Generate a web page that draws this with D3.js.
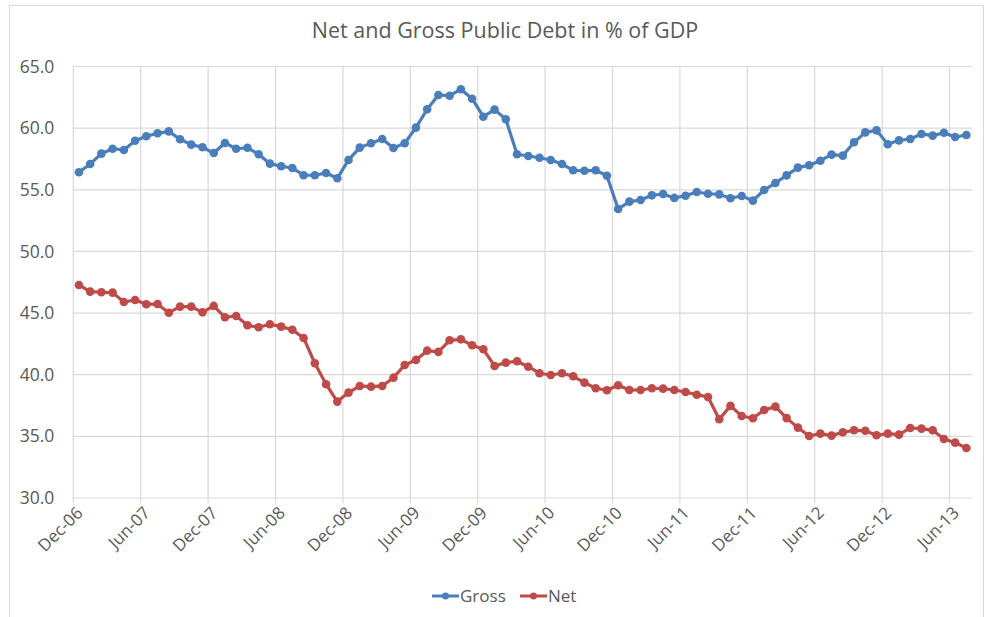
<!DOCTYPE html>
<html>
<head>
<meta charset="utf-8">
<script src="https://cdn.jsdelivr.net/npm/d3@7"></script>
<style>
  body { margin: 0; background: #fff; }
  text { font-family: "Open Sans", "DejaVu Sans", sans-serif; fill: #595959; }
</style>
</head>
<body>
<div id="chart"></div>
<script>
"use strict";

// monthly readings, Dec-06 .. Jul-13
var startMonth = new Date(2006, 11, 1);

var gross = [
  56.42, 57.09, 57.93, 58.33, 58.23, 58.98, 59.34, 59.58, 59.74, 59.10,
  58.66, 58.45, 57.98, 58.80, 58.33, 58.41, 57.88, 57.12, 56.91, 56.77,
  56.18, 56.18, 56.36, 55.93, 57.42, 58.42, 58.77, 59.12, 58.39, 58.77,
  60.04, 61.53, 62.69, 62.63, 63.15, 62.39, 60.93, 61.50, 60.72, 57.88,
  57.74, 57.60, 57.42, 57.09, 56.58, 56.55, 56.58, 56.14, 53.44, 54.04,
  54.17, 54.55, 54.66, 54.34, 54.52, 54.82, 54.68, 54.63, 54.31, 54.50,
  54.12, 54.98, 55.55, 56.17, 56.80, 56.99, 57.36, 57.85, 57.77, 58.85,
  59.66, 59.82, 58.69, 59.01, 59.12, 59.53, 59.39, 59.63, 59.28, 59.44
];

var net = [
  47.28, 46.74, 46.69, 46.66, 45.90, 46.06, 45.71, 45.74, 45.03, 45.52,
  45.52, 45.06, 45.58, 44.66, 44.76, 44.01, 43.85, 44.09, 43.90, 43.65,
  42.98, 40.93, 39.23, 37.82, 38.55, 39.09, 39.03, 39.09, 39.76, 40.79,
  41.20, 41.95, 41.85, 42.79, 42.87, 42.39, 42.06, 40.71, 40.98, 41.09,
  40.65, 40.12, 39.98, 40.12, 39.87, 39.36, 38.90, 38.74, 39.14, 38.76,
  38.76, 38.90, 38.87, 38.76, 38.60, 38.38, 38.19, 36.39, 37.47, 36.65,
  36.47, 37.14, 37.41, 36.48, 35.71, 35.03, 35.22, 35.06, 35.33, 35.49,
  35.46, 35.09, 35.22, 35.14, 35.68, 35.63, 35.49, 34.79, 34.49, 34.06
];

var seriesNames = ["Gross", "Net"];
var seriesColors = ["#4a7ebb", "#be4b48"];
var yTicks = [30, 35, 40, 45, 50, 55, 60, 65];
var xTickEvery = 6; // months

var width = 986, height = 617;
var margin = { top: 66.5, right: 14, bottom: 119, left: 73.3 };

var svg = d3.select("#chart").append("svg")
  .attr("width", width)
  .attr("height", height);

// outer chart border
svg.append("rect")
  .attr("x", 9.5).attr("y", 5.5)
  .attr("width", 974).attr("height", 620)
  .attr("fill", "none").attr("stroke", "#d9d9d9");

svg.append("text")
  .attr("x", 505).attr("y", 38)
  .attr("text-anchor", "middle")
  .style("font-size", "21.5px")
  .text("Net and Gross Public Debt in % of GDP");

var nMonths = gross.length;
var x = d3.scaleLinear().domain([0, nMonths]).range([margin.left, width - margin.right]);
var y = d3.scaleLinear().domain([30, 65]).range([height - margin.bottom, margin.top]);

var monthDate = function(i) { return d3.timeMonth.offset(startMonth, i); };
var fmt = d3.timeFormat("%b-%y");

var tickIdx = d3.range(0, nMonths, xTickEvery);

// horizontal grid
svg.append("g").selectAll("line").data(yTicks).enter().append("line")
  .attr("x1", x(0)).attr("x2", x(nMonths))
  .attr("y1", function(d) { return y(d); })
  .attr("y2", function(d) { return y(d); })
  .attr("stroke", "#d9d9d9").attr("stroke-width", 1.2);

// vertical grid
svg.append("g").selectAll("line").data(tickIdx).enter().append("line")
  .attr("x1", function(d) { return x(d); })
  .attr("x2", function(d) { return x(d); })
  .attr("y1", y(65)).attr("y2", y(30) + 5)
  .attr("stroke", "#d9d9d9").attr("stroke-width", 1.2);

// y labels
var yAxis = d3.axisLeft(y).tickValues(yTicks).tickFormat(d3.format(".1f")).tickSize(0).tickPadding(19);
var gy = svg.append("g").attr("transform", "translate(" + margin.left + ",0)").call(yAxis);
gy.select(".domain").remove();
gy.selectAll("text").style("font-size", "17.5px").style("font-family", null).attr("fill", null);

// x labels
var xAxis = d3.axisBottom(x).tickValues(tickIdx)
  .tickFormat(function(i) { return fmt(monthDate(i)); })
  .tickSize(0);
var gx = svg.append("g").attr("transform", "translate(0," + y(30) + ")").call(xAxis);
gx.select(".domain").remove();
gx.selectAll("text")
  .style("font-size", "17px").style("font-family", null).attr("fill", null)
  .attr("text-anchor", "end")
  .attr("dy", null).attr("y", 0)
  .attr("transform", "translate(10,16) rotate(-45)");

var line = d3.line()
  .x(function(d, i) { return x(i + 0.5); })
  .y(function(d) { return y(d); });

[gross, net].forEach(function(vals, k) {
  var g = svg.append("g");
  g.append("path").datum(vals)
    .attr("d", line)
    .attr("fill", "none")
    .attr("stroke", seriesColors[k])
    .attr("stroke-width", 3.2)
    .attr("stroke-linejoin", "round");
  g.selectAll("circle").data(vals).enter().append("circle")
    .attr("cx", function(d, i) { return x(i + 0.5); })
    .attr("cy", function(d) { return y(d); })
    .attr("r", 4.3)
    .attr("fill", seriesColors[k]);
});

// legend
var legendX = [432, 520];
var legend = svg.append("g").selectAll("g").data(seriesNames).enter().append("g")
  .attr("transform", function(d, i) { return "translate(" + legendX[i] + ",596)"; });
legend.append("line")
  .attr("x1", 0).attr("x2", 27)
  .attr("stroke", function(d, i) { return seriesColors[i]; })
  .attr("stroke-width", 3);
legend.append("circle")
  .attr("cx", 13.5).attr("r", 3.5)
  .attr("fill", function(d, i) { return seriesColors[i]; });
legend.append("text")
  .attr("x", 28).attr("dy", "0.35em")
  .style("font-size", "17px")
  .text(function(d) { return d; });
</script>
</body>
</html>
